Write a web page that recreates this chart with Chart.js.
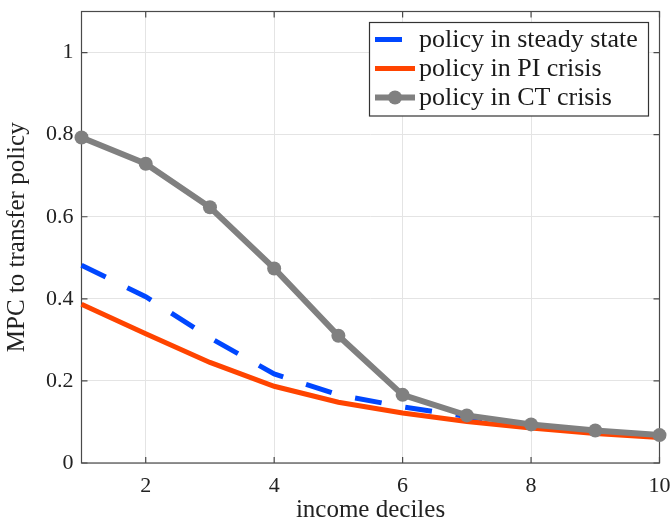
<!DOCTYPE html>
<html><head><meta charset="utf-8">
<script src="https://cdn.jsdelivr.net/npm/chart.js@4/dist/chart.umd.min.js"></script>
<style>html,body{margin:0;padding:0;background:#fff;}#wrap{width:672px;height:522px;}</style>
</head><body><div id="wrap"><canvas id="c" width="672" height="522"></canvas></div>
<script>
const deciles = [1, 2, 3, 4, 5, 6, 7, 8, 9, 10];
const steadyState = [0.482, 0.405, 0.305, 0.217, 0.166, 0.137, 0.113, 0.091, 0.077, 0.066];
const piCrisis = [0.387, 0.315, 0.245, 0.187, 0.148, 0.122, 0.101, 0.085, 0.072, 0.062];
const ctCrisis = [0.793, 0.729, 0.623, 0.474, 0.310, 0.166, 0.116, 0.094, 0.079, 0.068];
const seriesLabels = ['policy in steady state', 'policy in PI crisis', 'policy in CT crisis'];
const xTicks = [2, 4, 6, 8, 10];
const yTicks = [0, 0.2, 0.4, 0.6, 0.8, 1];
const yTickLabels = ['0', '0.2', '0.4', '0.6', '0.8', '1'];
const xTitle = 'income deciles';
const yTitle = 'MPC to transfer policy';

const FONT = "'Liberation Serif', 'Times New Roman', serif";
const AXIS = '#4a4a4a';
const GRID = '#e4e4e4';

const pts = (arr) => deciles.map((d, i) => ({x: d, y: arr[i]}));

const boxPlugin = {
  id: 'matlabBox',
  beforeDatasetsDraw(chart) {
    const {ctx, chartArea: a, scales: {x, y}} = chart;
    ctx.save();
    ctx.strokeStyle = AXIS;
    ctx.lineWidth = 1.2;
    ctx.strokeRect(a.left, a.top, a.right - a.left, a.bottom - a.top);
    const L = 6;
    ctx.beginPath();
    xTicks.forEach(v => {
      const px = x.getPixelForValue(v);
      ctx.moveTo(px, a.bottom); ctx.lineTo(px, a.bottom - L);
      ctx.moveTo(px, a.top); ctx.lineTo(px, a.top + L);
    });
    yTicks.forEach(v => {
      const py = y.getPixelForValue(v);
      ctx.moveTo(a.left, py); ctx.lineTo(a.left + L, py);
      ctx.moveTo(a.right, py); ctx.lineTo(a.right - L, py);
    });
    ctx.stroke();
    ctx.restore();
  },
  afterDatasetsDraw(chart) {
    const {ctx} = chart;
    const bx = 369.5, by = 22.5, bw = 279, bh = 93.5;
    ctx.save();
    ctx.fillStyle = '#fff';
    ctx.fillRect(bx, by, bw, bh);
    ctx.strokeStyle = '#333';
    ctx.lineWidth = 1.2;
    ctx.strokeRect(bx, by, bw, bh);
    const rows = [39.5, 68.5, 97.5];
    const x0 = 375, x1 = 415;
    ctx.font = '26px ' + FONT;
    ctx.textBaseline = 'middle';
    ctx.textAlign = 'left';
    chart.data.datasets.forEach((ds, i) => {
      const yy = rows[i];
      ctx.beginPath();
      ctx.strokeStyle = ds.borderColor;
      ctx.lineWidth = ds.borderWidth;
      ctx.lineCap = 'butt';
      ctx.setLineDash([]);
      if (ds.borderDash && ds.borderDash.length) {
        ctx.moveTo(x0, yy); ctx.lineTo(x0 + 27, yy);
      } else {
        ctx.moveTo(x0, yy); ctx.lineTo(x1, yy);
      }
      ctx.stroke();
      if (ds.pointRadius > 0) {
        ctx.beginPath();
        ctx.fillStyle = ds.pointBackgroundColor;
        ctx.arc((x0 + x1) / 2, yy, ds.pointRadius, 0, Math.PI * 2);
        ctx.fill();
      }
      ctx.fillStyle = '#1a1a1a';
      ctx.fillText(ds.label, 419, yy + 1);
    });
    ctx.restore();
  }
};

const noPad = s => { s.paddingLeft = 0; s.paddingRight = 0; s.paddingTop = 0; s.paddingBottom = 0; };

new Chart(document.getElementById('c'), {
  type: 'line',
  data: {
    datasets: [
      {label: seriesLabels[0], data: pts(steadyState), borderColor: '#0047ff', borderWidth: 5,
       borderDash: [27, 24], pointRadius: 0, order: 3, clip: false, tension: 0},
      {label: seriesLabels[1], data: pts(piCrisis), borderColor: '#ff4400', borderWidth: 5,
       pointRadius: 0, order: 2, clip: false, tension: 0},
      {label: seriesLabels[2], data: pts(ctCrisis), borderColor: '#808080', borderWidth: 6,
       pointRadius: 7, pointBackgroundColor: '#808080', pointBorderWidth: 0, pointHoverRadius: 7,
       order: 1, clip: false, tension: 0}
    ]
  },
  options: {
    responsive: false,
    animation: false,
    devicePixelRatio: 1,
    layout: {padding: {top: 11.5, right: 12.5, left: 0, bottom: 0}},
    plugins: {legend: {display: false}, tooltip: {enabled: false}},
    scales: {
      x: {
        type: 'linear', min: 1, max: 10,
        afterBuildTicks: s => { s.ticks = xTicks.map(v => ({value: v})); },
        afterFit: s => { s.height = 59; noPad(s); },
        grid: {color: GRID, lineWidth: 1, drawTicks: false},
        border: {display: false},
        ticks: {padding: 10, autoSkip: false, maxRotation: 0, color: '#222',
                font: {family: FONT, size: 22}, callback: v => String(v)},
        title: {display: true, text: xTitle, color: '#222', padding: {top: 0, bottom: 0},
                font: {family: FONT, size: 25, lineHeight: 0.92}}
      },
      y: {
        type: 'linear', min: 0, max: 1.1,
        afterBuildTicks: s => { s.ticks = yTicks.map(v => ({value: v})); },
        afterFit: s => { s.width = 81.5; noPad(s); },
        grid: {color: GRID, lineWidth: 1, drawTicks: false},
        border: {display: false},
        ticks: {padding: 8, autoSkip: false, color: '#222',
                font: {family: FONT, size: 22},
                callback: (v) => { const i = yTicks.findIndex(t => Math.abs(t - v) < 1e-9); return i >= 0 ? yTickLabels[i] : ''; }},
        title: {display: true, text: yTitle, color: '#222', padding: {top: 5, bottom: 0},
                font: {family: FONT, size: 25, lineHeight: 1}}
      }
    }
  },
  plugins: [boxPlugin]
});
</script>
</body></html>
